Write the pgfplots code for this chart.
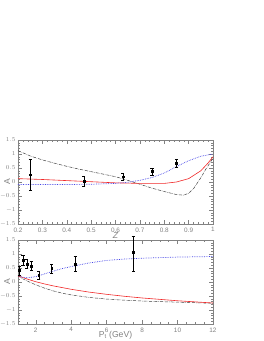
\documentclass[border=0pt]{standalone}
\usepackage{pgfplots}
\pgfplotsset{compat=1.18}
\usepackage{fontspec}
\setmainfont{Liberation Sans}
\definecolor{tickgray}{RGB}{130,130,130}
\definecolor{myblue}{RGB}{70,70,230}
\definecolor{myred}{RGB}{240,40,40}
\pgfplotsset{
  panel/.style={
    scale only axis, width=195pt, height=84pt, anchor=south west,
    axis line style={tickgray, line width=0.5pt},
    tick style={tickgray, line width=0.4pt},
    major tick length=4pt, minor tick length=2pt,
    tick align=inside,
    xtick pos=both, ytick pos=both,
    ymin=-1.5, ymax=1.5,
    ytick={-1.5,-1,-0.5,0,0.5,1,1.5},
    yticklabels={$-1.5$,$-1$,$-0.5$,$0$,$0.5$,$1$,$1.5$},
    minor y tick num=4,
    ticklabel style={font=\fontsize{6.4}{7}\selectfont, text=tickgray},
    yticklabel style={xshift=1pt},
    /pgf/number format/assume math mode=true,
    label style={font=\fontsize{8.6}{9}\selectfont, text=tickgray},
    ylabel={A},
    ylabel style={at={(axis description cs:-0.055,0.5)}, anchor=center},
    clip=false,
  },
  dat/.style={black, only marks, mark=square*, mark size=0.95pt,
    error bars/.cd, y dir=both, y explicit, error bar style={black, line width=0.4pt},
    error mark options={rotate=90, mark size=1.6pt, black}},
}
\begin{document}
\begin{tikzpicture}
\path[use as bounding box] (0pt,0pt) rectangle (264pt,341pt);
% top panel
\begin{axis}[panel, at={(18pt,117pt)},
  xmin=0.2, xmax=1,
  xtick={0.2,0.3,0.4,0.5,0.6,0.7,0.8,0.9,1},
  xticklabels={0.2,0.3,0.4,0.5,0.6,0.7,0.8,0.9,1},
  minor x tick num=4,
  xlabel={\itshape Z}, xlabel style={yshift=6pt}]
\addplot[black!75, densely dashdotted, line width=0.5pt] coordinates {
(0.2,1.12) (0.25,0.93) (0.3,0.79) (0.35,0.67) (0.4,0.56) (0.45,0.46) (0.5,0.37)
(0.55,0.28) (0.6,0.19) (0.65,0.06) (0.7,-0.08) (0.75,-0.22) (0.8,-0.34) (0.85,-0.45)
(0.88,-0.47) (0.9,-0.40) (0.92,-0.24) (0.95,0.15) (0.97,0.45) (1.0,0.85)};
\addplot[myred, line width=0.6pt] coordinates {
(0.2,0.12) (0.3,0.09) (0.4,0.05) (0.5,0.01) (0.6,-0.03) (0.7,-0.05) (0.8,-0.05)
(0.85,0.0) (0.9,0.12) (0.95,0.40) (0.98,0.68) (1.0,0.90)};
\addplot[myblue, densely dotted, line width=0.7pt] coordinates {
(0.2,-0.09) (0.3,-0.09) (0.4,-0.09) (0.5,-0.08) (0.6,-0.05) (0.65,-0.01) (0.7,0.06)
(0.75,0.16) (0.8,0.32) (0.85,0.55) (0.9,0.76) (0.95,0.92) (1.0,1.0)};
\addplot[dat] coordinates {
(0.25,0.26) +- (0,0.54)
(0.47,0.03) +- (0,0.19)
(0.63,0.19) +- (0,0.13)
(0.75,0.37) +- (0,0.14)
(0.85,0.68) +- (0,0.15)};
\end{axis}
% bottom panel
\begin{axis}[panel, at={(18pt,17pt)},
  xmin=1, xmax=12,
  xtick={2,4,6,8,10,12},
  minor xtick={1.5,2.5,3,3.5,4.5,5,5.5,6.5,7,7.5,8.5,9,9.5,10.5,11,11.5},
  xlabel={P$_{\mathrm{t}}$ (GeV)}, xlabel style={yshift=7.5pt}]
\addplot[black!75, densely dashdotted, line width=0.5pt] coordinates {
(1,0.22) (1.25,0.12) (1.5,0.04) (2,-0.1) (2.5,-0.22) (3,-0.32) (3.5,-0.40) (4,-0.46)
(5,-0.55) (6,-0.61) (7,-0.65) (8,-0.68) (9,-0.70) (10,-0.72) (11,-0.74) (12,-0.76)};
\addplot[myred, line width=0.6pt] coordinates {
(1,0.22) (1.5,0.11) (2,0.01) (2.5,-0.07) (3,-0.14) (4,-0.26) (5,-0.36) (6,-0.44)
(7,-0.51) (8,-0.57) (9,-0.62) (10,-0.67) (11,-0.71) (12,-0.75)};
\addplot[myblue, densely dotted, line width=0.7pt] coordinates {
(1,0.24) (1.2,0.18) (1.5,0.15) (2,0.19) (2.5,0.29) (3,0.39) (3.5,0.48) (4,0.55)
(5,0.68) (6,0.77) (7,0.82) (8,0.85) (9,0.87) (10,0.89) (11,0.90) (12,0.91)};
\addplot[dat] coordinates {
(1.09,0.41) +- (0,0.15)
(1.28,0.79) +- (0,0.18)
(1.5,0.65) +- (0,0.17)
(1.75,0.57) +- (0,0.16)
(2.17,0.24) +- (0,0.13)
(2.9,0.49) +- (0,0.16)
(4.23,0.65) +- (0,0.27)};
\addplot[dat] coordinates {
(7.5,1.05) += (0,0.6) -= (0,0.68)};
\end{axis}
\end{tikzpicture}
\end{document}
